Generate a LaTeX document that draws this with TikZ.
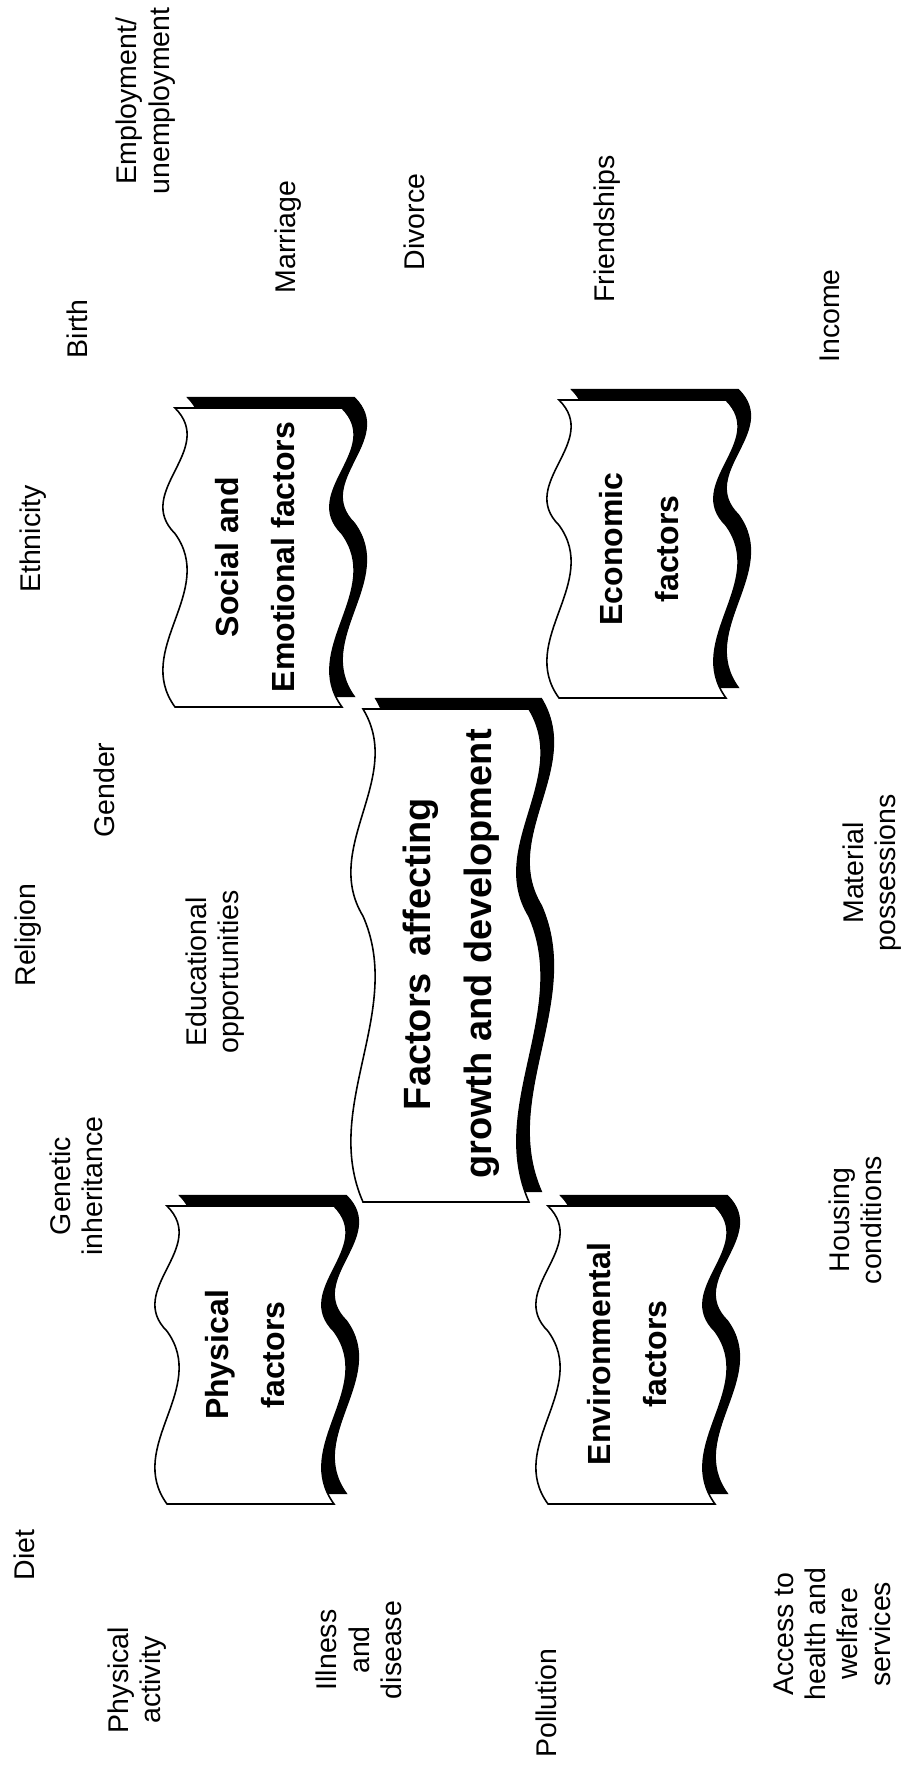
\documentclass[tikz,border=0pt]{standalone}
\usepackage{fontspec}
\setmainfont{Liberation Sans}
\newcommand{\wc}{42}
\newcommand{\wavepath}[4]{%
 ({#1},{#2}) -- ({#1+#3},{#2})
 .. controls ({#1+#3+\wc},{#2+0.14*#4}) and ({#1+#3-\wc},{#2+0.28*#4}) .. ({#1+#3},{#2+0.42*#4})
 .. controls ({#1+#3+\wc},{#2+0.6133*#4}) and ({#1+#3-\wc},{#2+0.8067*#4}) .. ({#1+#3},{#2+#4})
 -- ({#1},{#2+#4})
 .. controls ({#1-\wc},{#2+0.8067*#4}) and ({#1+\wc},{#2+0.6133*#4}) .. ({#1},{#2+0.42*#4})
 .. controls ({#1-\wc},{#2+0.28*#4}) and ({#1+\wc},{#2+0.14*#4}) .. ({#1},{#2}) -- cycle}
\newcommand{\banner}[4]{%
 \filldraw[black, line width=0.3pt] \wavepath{#1+12.5}{#2-10.5}{#3}{#4};
 \draw[fill=white, line width=0.45pt] \wavepath{#1}{#2}{#3}{#4};}
\tikzset{
 lab/.style={rotate=90, align=center, inner sep=0pt, font=\fontsize{8.1pt}{9.2pt}\selectfont},
 blab/.style={rotate=90, align=center, inner sep=0pt, font=\bfseries\fontsize{9.1pt}{15.9pt}\selectfont},
 clab/.style={rotate=90, align=center, inner sep=0pt, font=\bfseries\fontsize{10.8pt}{17.4pt}\selectfont}
}
\begin{document}
\begin{tikzpicture}[x=0.01cm, y=-0.01cm]
\useasboundingbox (0,0) rectangle (904,1771);
\fill[white] (0,0) rectangle (904,1771);
% banners
\banner{175}{408}{167}{299}
\banner{559}{400}{167}{298}
\banner{363}{709}{166}{493}
\banner{167}{1206}{167}{298}
\banner{548}{1206}{167}{298}
% banner labels
\node[blab] (social) at (255,557) {Social and\\Emotional factors};
\node[blab] (economic) at (639,549) {Economic\\factors};
\node[clab] (centre) at (451,954) {Factors\, affecting\\growth and development};
\node[blab] (physical) at (245,1355) {Physical\\factors};
\node[blab] (environmental) at (627,1354) {Environmental\\factors};
% free labels
\node[lab] (employment) at (145.5,101) {Employment/\\unemployment};
\node[lab] (birth) at (77,329) {Birth};
\node[lab] (marriage) at (288,237) {Marriage};
\node[lab] (divorce) at (414,222) {Divorce};
\node[lab] (friendships) at (607,229) {Friendships};
\node[lab] (income) at (830,316) {Income};
\node[lab] (ethnicity) at (33,539) {Ethnicity};
\node[lab] (religion) at (28,935) {Religion};
\node[lab] (gender) at (104,790) {Gender};
\node[lab] (educational) at (215,972) {Educational\\opportunities};
\node[lab] (genetic) at (76,1186) {Genetic\\inheritance};
\node[lab] (material) at (872,873) {Material\\possessions};
\node[lab] (housing) at (855,1220) {Housing\\conditions};
\node[lab] (diet) at (24,1555) {Diet};
\node[lab] (activity) at (137,1680) {Physical\\activity};
\node[lab] (illness) at (359,1650) {Illness\\and\\disease};
\node[lab] (pollution) at (546,1703) {Pollution};
\node[lab] (access) at (832,1634) {Access to\\health and\\welfare\\services};
\end{tikzpicture}
\end{document}
